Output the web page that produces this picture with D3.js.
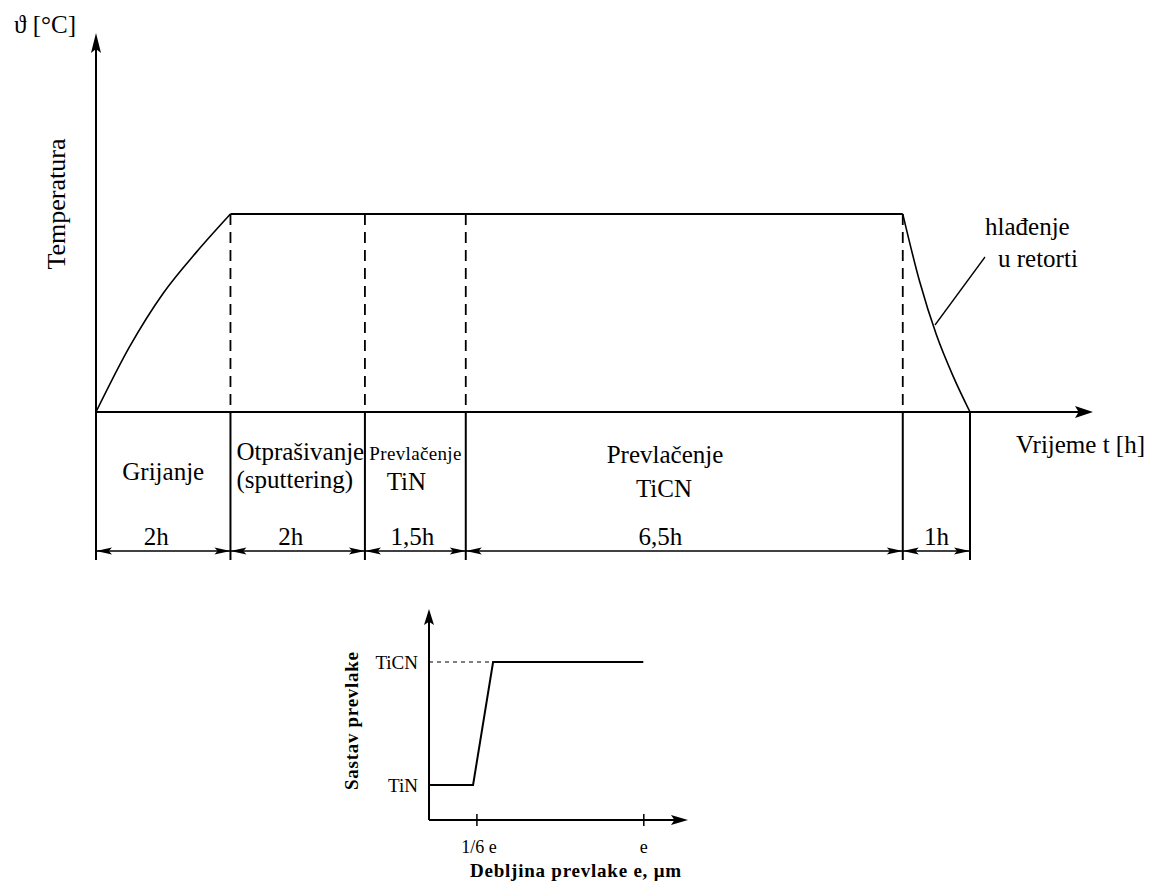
<!DOCTYPE html>
<html>
<head>
<meta charset="utf-8">
<script src="https://cdn.jsdelivr.net/npm/d3@7"></script>
<style>
  body { margin: 0; background: #fff; }
  text { font-family: "Liberation Serif", "Times New Roman", serif; fill: #000; }
</style>
</head>
<body>
<div id="chart"></div>
<script>
// faze procesa (trajanje u satima)
const phaseLines = [["Grijanje"], ["Otprašivanje", "(sputtering)"], ["Prevlačenje", "TiN"], ["Prevlačenje", "TiCN"], []];
const phaseHours = [2, 2, 1.5, 6.5, 1];
const durationLabels = ["2h", "2h", "1,5h", "6,5h", "1h"];

// temperatura, relativno (1 = temperatura prevlačenja)
const heatTime = [0, 0.5, 1, 1.5, 2];
const heatTemp = [0, 0.33, 0.6, 0.81, 1];
const coolTime = [12, 12.25, 12.5, 12.75, 13];
const coolTemp = [1, 0.66, 0.39, 0.18, 0];

// sastav prevlake po debljini
const thickness = [-0.07, 0.15, 0.25, 1];
const composition = ["TiN", "TiN", "TiCN", "TiCN"];
const compLevels = ["TiN", "TiCN"];
const thickTicks = [1 / 6, 1];
const thickTickLabels = ["1/6 e", "e"];

const W = 1155, H = 884;
const svg = d3.select("#chart").append("svg").attr("width", W).attr("height", H)
  .attr("font-family", "Liberation Serif, serif");

function arrowHead(g, x, y, angle, len, hw) {
  g.append("path")
    .attr("d", `M0,0L${-len},${-hw}L${-len * 0.8},0L${-len},${hw}Z`)
    .attr("transform", `translate(${x},${y}) rotate(${angle})`)
    .attr("fill", "#000");
}

// ---------- gornji dijagram ----------
const x = d3.scaleLinear().domain([0, 13]).range([96, 970]);
const y = d3.scaleLinear().domain([0, 1]).range([412, 214]);
const topG = svg.append("g");

const bounds = [0];
phaseHours.forEach(h => bounds.push(bounds[bounds.length - 1] + h));

// osi
topG.append("line").attr("x1", x(0)).attr("x2", x(0)).attr("y1", y(0)).attr("y2", 40)
  .attr("stroke", "#000").attr("stroke-width", 2);
arrowHead(topG, x(0), 33, -90, 20, 5);
topG.append("line").attr("x1", x(0)).attr("x2", 1085).attr("y1", y(0)).attr("y2", y(0))
  .attr("stroke", "#000").attr("stroke-width", 2);
arrowHead(topG, 1093, y(0), 0, 18, 6);

// temperaturna krivulja
const line = d3.line().x(d => x(d[0])).y(d => y(d[1])).curve(d3.curveMonotoneX);
topG.append("path").datum(d3.zip(heatTime, heatTemp)).attr("d", line)
  .attr("fill", "none").attr("stroke", "#000").attr("stroke-width", 1.6);
topG.append("line").attr("x1", x(2)).attr("x2", x(12)).attr("y1", y(1)).attr("y2", y(1))
  .attr("stroke", "#000").attr("stroke-width", 2);
topG.append("path").datum(d3.zip(coolTime, coolTemp)).attr("d", line)
  .attr("fill", "none").attr("stroke", "#000").attr("stroke-width", 1.6);

// isprekidane granice faza
topG.selectAll(".dash").data(bounds.slice(1, 5)).enter().append("line")
  .attr("x1", d => x(d)).attr("x2", d => x(d))
  .attr("y1", y(1)).attr("y2", y(0))
  .attr("stroke", "#000").attr("stroke-width", 1.8).attr("stroke-dasharray", "11,7");

// pune granice ispod osi
topG.selectAll(".bound").data(bounds).enter().append("line")
  .attr("x1", d => x(d)).attr("x2", d => x(d))
  .attr("y1", y(0)).attr("y2", 560)
  .attr("stroke", "#000").attr("stroke-width", 2);

// kotna linija
const dimY = 551;
topG.append("line").attr("x1", x(0)).attr("x2", x(13)).attr("y1", dimY).attr("y2", dimY)
  .attr("stroke", "#000").attr("stroke-width", 1.5);
phaseHours.forEach((h, i) => {
  arrowHead(topG, x(bounds[i]), dimY, 180, 16, 3.5);
  arrowHead(topG, x(bounds[i + 1]), dimY, 0, 16, 3.5);
});

const durNudge = [-7, -7, -3, -24, 0];
topG.selectAll(".dur").data(durationLabels).enter().append("text")
  .attr("x", (d, i) => (x(bounds[i]) + x(bounds[i + 1])) / 2 + durNudge[i])
  .attr("y", 545).attr("text-anchor", "middle").attr("font-size", 25)
  .text(d => d);

// nazivi faza
topG.append("text").attr("x", (x(0) + x(2)) / 2).attr("y", 480).attr("text-anchor", "middle")
  .attr("font-size", 25).text(phaseLines[0][0]);
topG.append("text").attr("x", x(2) + 6).attr("y", 460).attr("font-size", 25).text(phaseLines[1][0]);
topG.append("text").attr("x", x(2) + 6).attr("y", 488).attr("font-size", 25).text(phaseLines[1][1]);
topG.append("text").attr("x", (x(4) + x(5.5)) / 2).attr("y", 460).attr("text-anchor", "middle")
  .attr("font-size", 19).attr("textLength", 92).text(phaseLines[2][0]);
topG.append("text").attr("x", (x(4) + x(5.5)) / 2 - 9).attr("y", 490).attr("text-anchor", "middle")
  .attr("font-size", 25).text(phaseLines[2][1]);
topG.append("text").attr("x", 665).attr("y", 463).attr("text-anchor", "middle")
  .attr("font-size", 25).text(phaseLines[3][0]);
topG.append("text").attr("x", 664).attr("y", 497).attr("text-anchor", "middle")
  .attr("font-size", 25).text(phaseLines[3][1]);

// natpisi osi
topG.append("text").attr("x", 14).attr("y", 33).attr("font-size", 25).text("ϑ [°C]");
topG.append("text").attr("transform", "translate(65,204) rotate(-90)").attr("text-anchor", "middle")
  .attr("font-size", 26).text("Temperatura");
topG.append("text").attr("x", 1016).attr("y", 453).attr("font-size", 25).text("Vrijeme t [h]");

// hlađenje
topG.append("line").attr("x1", 985).attr("y1", 257).attr("x2", 935).attr("y2", 325)
  .attr("stroke", "#000").attr("stroke-width", 1.3);
topG.append("text").attr("x", 985).attr("y", 235).attr("font-size", 25).text("hlađenje");
topG.append("text").attr("x", 998).attr("y", 267).attr("font-size", 25).text("u retorti");

// ---------- donji dijagram ----------
const xb = d3.scaleLinear().domain([-0.07, 1]).range([429, 643.3]);
const yb = d3.scalePoint().domain(compLevels).range([785, 662]);
const bot = svg.append("g");

bot.append("line").attr("x1", 429).attr("x2", 429).attr("y1", 820).attr("y2", 616)
  .attr("stroke", "#000").attr("stroke-width", 2);
arrowHead(bot, 429, 609, -90, 16, 5);
bot.append("line").attr("x1", 429).attr("x2", 680).attr("y1", 820).attr("y2", 820)
  .attr("stroke", "#000").attr("stroke-width", 2);
arrowHead(bot, 688, 820, 0, 17, 5);

const xAxis = bot.append("g").attr("transform", "translate(0,820)")
  .call(d3.axisBottom(xb).tickValues(thickTicks).tickFormat((d, i) => thickTickLabels[i]).tickSize(6).tickPadding(14));
xAxis.select(".domain").remove();
xAxis.selectAll("line").attr("y1", -6).attr("y2", 6).attr("stroke-width", 1.5);
xAxis.selectAll("text").attr("font-family", "Liberation Serif, serif").attr("font-size", 18).attr("fill", "#000");
xAxis.selectAll(".tick").filter((d, i) => i === 0).select("text").attr("dx", 2);

const yAxis = bot.append("g").attr("transform", "translate(429,0)")
  .call(d3.axisLeft(yb).tickSize(0).tickPadding(11));
yAxis.select(".domain").remove();
yAxis.selectAll("text").attr("font-family", "Liberation Serif, serif").attr("font-size", 19).attr("fill", "#000");

// isprekidana do TiCN
bot.append("line").attr("x1", 429).attr("x2", xb(thickness[2])).attr("y1", yb("TiCN")).attr("y2", yb("TiCN"))
  .attr("stroke", "#000").attr("stroke-width", 1.2).attr("stroke-dasharray", "4,4");

bot.append("path")
  .datum(d3.zip(thickness, composition))
  .attr("d", d3.line().x(d => xb(d[0])).y(d => yb(d[1])))
  .attr("fill", "none").attr("stroke", "#000").attr("stroke-width", 2);

bot.append("text").attr("transform", "translate(358,721) rotate(-90)").attr("text-anchor", "middle")
  .attr("font-weight", "bold").attr("font-size", 19)
  .attr("textLength", 138).text("Sastav prevlake");
bot.append("text").attr("x", 470).attr("y", 877)
  .attr("font-weight", "bold").attr("font-size", 19)
  .attr("textLength", 211).text("Debljina prevlake e, μm");
</script>
</body>
</html>
